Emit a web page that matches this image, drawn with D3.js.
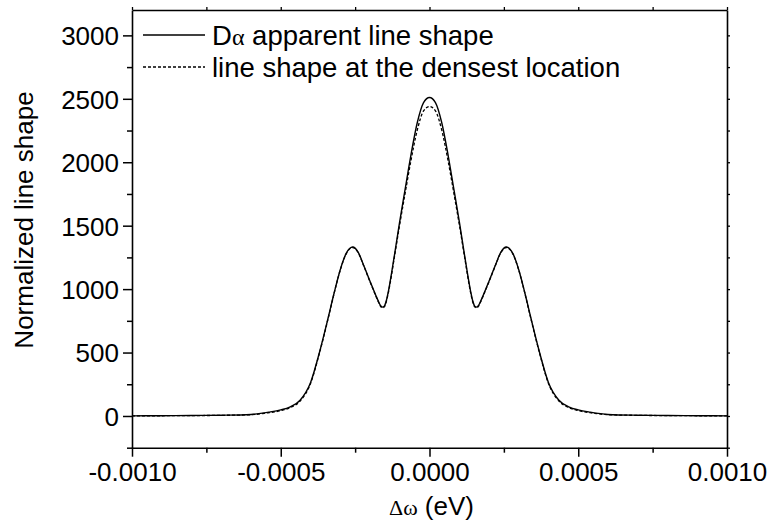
<!DOCTYPE html>
<html>
<head>
<meta charset="utf-8">
<script src="https://cdn.jsdelivr.net/npm/d3@7"></script>
<style>
  html, body { margin: 0; padding: 0; background: #fff; }
  svg text { font-family: "Liberation Sans", Arial, sans-serif; fill: #000; }
</style>
</head>
<body>
<svg id="chart" width="775" height="527"></svg>
<script>
// Δω in eV
const deltaOmega = [
  -0.00100, -0.00090, -0.00080, -0.00070, -0.00060, -0.000540, -0.000500, -0.000470, -0.000435, -0.000400,
  -0.000370, -0.000340, -0.000320, -0.000300, -0.000280, -0.000258, -0.000240, -0.000220, -0.000200, -0.000180,
  -0.000172, -0.000165, -0.000158, -0.000152, -0.000145, -0.000138, -0.000119, -0.000101, -0.000082, -0.000063,
  -0.000041, -0.000020, 0.0,
  0.000020, 0.000041, 0.000063, 0.000082, 0.000101, 0.000119, 0.000138, 0.000145, 0.000152, 0.000158,
  0.000165, 0.000172, 0.000180, 0.000200, 0.000220, 0.000240, 0.000258, 0.000280, 0.000300, 0.000320,
  0.000340, 0.000370, 0.000400, 0.000435, 0.000470, 0.000500, 0.000540, 0.00060, 0.00070, 0.00080,
  0.00090, 0.00100
];
const apparentShape = [
  1, 2, 4, 6, 12, 30, 48, 70, 124, 262,
  500, 780, 975, 1153, 1282, 1332, 1292, 1180, 1062, 948,
  905, 872, 858, 866, 910, 985, 1250, 1520, 1786, 2049,
  2313, 2470, 2510,
  2470, 2313, 2049, 1786, 1520, 1250, 985, 910, 866, 858,
  872, 905, 948, 1062, 1180, 1292, 1332, 1282, 1153, 975,
  780, 500, 262, 124, 70, 48, 30, 12, 6, 4,
  2, 1
];
const densestShape = [
  1, 2, 3, 5, 10, 26, 42, 64, 118, 255,
  495, 775, 972, 1150, 1278, 1328, 1288, 1177, 1058, 944,
  900, 866, 852, 860, 902, 975, 1238, 1498, 1755, 2005,
  2255, 2405, 2440,
  2405, 2255, 2005, 1755, 1498, 1238, 975, 902, 860, 852,
  866, 900, 944, 1058, 1177, 1288, 1328, 1278, 1150, 972,
  775, 495, 255, 118, 64, 42, 26, 10, 5, 3,
  2, 1
];
const xTickValues = [-0.0010, -0.0005, 0.0, 0.0005, 0.0010];
const xTickLabels = ["-0.0010", "-0.0005", "0.0000", "0.0005", "0.0010"];
const xMinorTicks = [-0.00075, -0.00025, 0.00025, 0.00075];
const yTickValues = [0, 500, 1000, 1500, 2000, 2500, 3000];
const yMinorTicks = [-250, 250, 750, 1250, 1750, 2250, 2750];
const seriesNames = ["apparent line shape", "line shape at the densest location"];

const svg = d3.select("#chart");
svg.append("rect").attr("width", 775).attr("height", 527).attr("fill", "#fff");

const L = 132, R = 727, T = 10, B = 447.7;
const x = d3.scaleLinear().domain([-0.001, 0.001]).range([L, R]);
const y = d3.scaleLinear().domain([-250, 3200]).range([B, T]);
const FS = 26;

// curves
const line = d3.line().x((d, i) => x(deltaOmega[i])).y(d => y(d)).curve(d3.curveMonotoneX);
const g = svg.append("g");
g.append("path").datum(densestShape).attr("d", line)
  .attr("fill", "none").attr("stroke", "#000").attr("stroke-width", 1.3).attr("stroke-dasharray", "3,2");
g.append("path").datum(apparentShape).attr("d", line)
  .attr("fill", "none").attr("stroke", "#000").attr("stroke-width", 1.4);

// axes
const axStyle = sel => {
  sel.select(".domain").attr("stroke", "#000").attr("stroke-width", 1.6);
  sel.selectAll(".tick line").attr("stroke", "#000").attr("stroke-width", 1.5);
  sel.selectAll("text").attr("font-size", FS).attr("font-family", "Liberation Sans, Arial, sans-serif");
};

const xAxis = svg.append("g").attr("transform", `translate(0,${B})`)
  .call(d3.axisBottom(x).tickValues(xTickValues).tickFormat((d, i) => xTickLabels[i]).tickSizeInner(9).tickSizeOuter(0).tickPadding(6));
axStyle(xAxis);
svg.append("g").attr("transform", `translate(0,${B})`)
  .call(d3.axisBottom(x).tickValues(xMinorTicks).tickFormat("").tickSizeInner(5).tickSizeOuter(0))
  .call(s => { s.select(".domain").remove(); s.selectAll(".tick line").attr("stroke", "#000").attr("stroke-width", 1.5); });

const yAxis = svg.append("g").attr("transform", `translate(${L},0)`)
  .call(d3.axisLeft(y).tickValues(yTickValues).tickFormat(d3.format("d")).tickSizeInner(9).tickSizeOuter(0).tickPadding(4));
axStyle(yAxis);
yAxis.selectAll("text").attr("dy", "0.36em");
svg.append("g").attr("transform", `translate(${L},0)`)
  .call(d3.axisLeft(y).tickValues(yMinorTicks).tickFormat("").tickSizeInner(5).tickSizeOuter(0))
  .call(s => { s.select(".domain").remove(); s.selectAll(".tick line").attr("stroke", "#000").attr("stroke-width", 1.5); });

// top and right axes (small outward ticks, no labels)
svg.append("g").attr("transform", `translate(0,${T})`)
  .call(d3.axisTop(x).tickValues(xTickValues.concat(xMinorTicks)).tickFormat("").tickSizeInner(3).tickSizeOuter(0))
  .call(s => { s.select(".domain").attr("stroke", "#000").attr("stroke-width", 1.6); s.selectAll(".tick line").attr("stroke", "#000").attr("stroke-width", 1.3); });
svg.append("g").attr("transform", `translate(${R},0)`)
  .call(d3.axisRight(y).tickValues(yTickValues.concat(yMinorTicks)).tickFormat("").tickSizeInner(3).tickSizeOuter(0))
  .call(s => { s.select(".domain").attr("stroke", "#000").attr("stroke-width", 1.6); s.selectAll(".tick line").attr("stroke", "#000").attr("stroke-width", 1.3); });

// axis titles
const xt = svg.append("text").attr("x", (L + R) / 2 + 2).attr("y", 515).attr("text-anchor", "middle").attr("font-size", FS);
xt.append("tspan").attr("font-family", "Liberation Serif, serif").attr("font-size", 22).text("Δω");
xt.append("tspan").text(" (eV)");

svg.append("text").attr("transform", "translate(33,220) rotate(-90)")
  .attr("text-anchor", "middle").attr("font-size", FS).text("Normalized line shape");

// legend
const LFS = 27.5;
const lg = svg.append("g");
const rows = [{ y: 35, dash: null, label: seriesNames[0], prefix: true }, { y: 67, dash: "3,2", label: seriesNames[1], prefix: false }];
rows.forEach(r => {
  lg.append("line").attr("x1", 143).attr("x2", 205).attr("y1", r.y).attr("y2", r.y)
    .attr("stroke", "#000").attr("stroke-width", 1.3).attr("stroke-dasharray", r.dash);
  const t = lg.append("text").attr("x", 212).attr("y", r.y + 9.5).attr("font-size", LFS);
  if (r.prefix) {
    t.append("tspan").text("D");
    t.append("tspan").attr("font-family", "Liberation Serif, serif").attr("font-size", 24).text("α");
    t.append("tspan").text(" " + r.label);
  } else {
    t.text(r.label);
  }
});
</script>
</body>
</html>
